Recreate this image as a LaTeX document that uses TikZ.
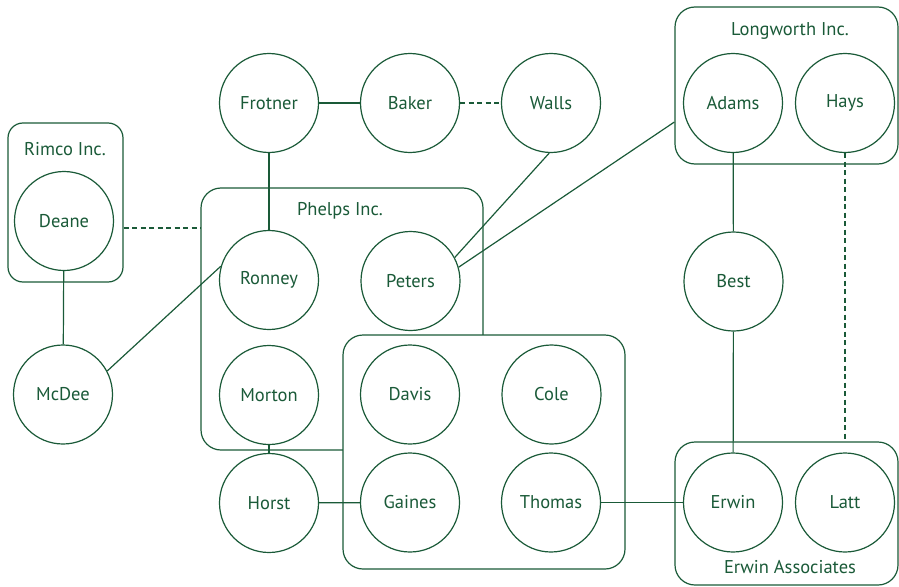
\documentclass[tikz,border=0pt]{standalone}
\usepackage{fontspec}
\setmainfont{PT Sans}
\begin{document}
\begin{tikzpicture}[x=1pt,y=-1pt,
  every node/.style={font=\fontsize{18.5}{22}\selectfont, text=dg},
  person/.style={circle, draw=dg, line width=1.2pt, minimum size=99pt, inner sep=0pt, fill=white},
  grp/.style={rectangle, draw=dg, line width=1.2pt, rounded corners=20pt, inner sep=0pt},
  link/.style={draw=dg, line width=1.2pt},
  dlink/.style={draw=dg, line width=1.2pt, dash pattern=on 5pt off 3.5pt},
  lbl/.style={inner sep=0pt}
]
\definecolor{dg}{RGB}{26,90,56}
\useasboundingbox (0,0) rectangle (899,586);
% groups
\node[grp, rounded corners=15pt, minimum width=115pt, minimum height=159pt] (rimco) at (65.5,202.5) {};
\node[grp, minimum width=282pt, minimum height=262pt] (phelps) at (342,319) {};
\node[grp, fill=white, minimum width=282pt, minimum height=234pt] (dbox) at (484,452) {};
\node[grp, minimum width=223pt, minimum height=157pt] (lw) at (786.5,85.5) {};
\node[grp, minimum width=223pt, minimum height=143pt] (ea) at (786.5,513.5) {};
\node[lbl] (rimcol) at (65,149) {Rimco Inc.};
\node[lbl] (phelpsl) at (340,211) {Phelps Inc.};
\node[lbl] (lwl) at (790,31) {Longworth Inc.};
\node[lbl] (eal) at (790,567) {Erwin Associates};
% people
\node[person] (frotner) at (269,103) {Frotner};
\node[person] (baker) at (410,103) {Baker};
\node[person] (walls) at (551,103) {Walls};
\node[person] (adams) at (733,103) {Adams};
\node[person] (hays) at (845,103) {Hays};
\node[person] (deane) at (64,221) {Deane};
\node[person] (ronney) at (269,280) {Ronney};
\node[person] (peters) at (410.5,281) {Peters};
\node[person] (best) at (733.5,281.5) {Best};
\node[person] (mcdee) at (63,394.5) {McDee};
\node[person] (morton) at (269,395) {Morton};
\node[person] (davis) at (410,394.5) {Davis};
\node[person] (cole) at (551.5,394.5) {Cole};
\node[person] (horst) at (269,503) {Horst};
\node[person] (gaines) at (410,502.5) {Gaines};
\node[person] (thomas) at (551,502.5) {Thomas};
\node[person] (erwin) at (733,502.5) {Erwin};
\node[person] (latt) at (845,502.5) {Latt};
% connectors
\draw[link] (frotner) -- (baker);
\draw[dlink] (baker) -- (walls);
\draw[link] (frotner) -- (ronney);
\draw[dlink] (rimco.east |- 0,228) -- (phelps.west |- 0,228);
\draw[link] (deane) -- (mcdee);
\draw[link] (mcdee.28) -- (ronney.164);
\draw[link] (walls.-92) -- (peters.28);
\draw[link] (lw.west |- 0,122) -- (peters.16);
\draw[link] (morton) -- (horst);
\draw[link] (horst) -- (gaines);
\draw[link] (thomas) -- (erwin);
\draw[link] (adams) -- (best);
\draw[link] (best) -- (erwin);
\draw[dlink] (hays.south) -- (hays.south |- ea.north);
\end{tikzpicture}
\end{document}
